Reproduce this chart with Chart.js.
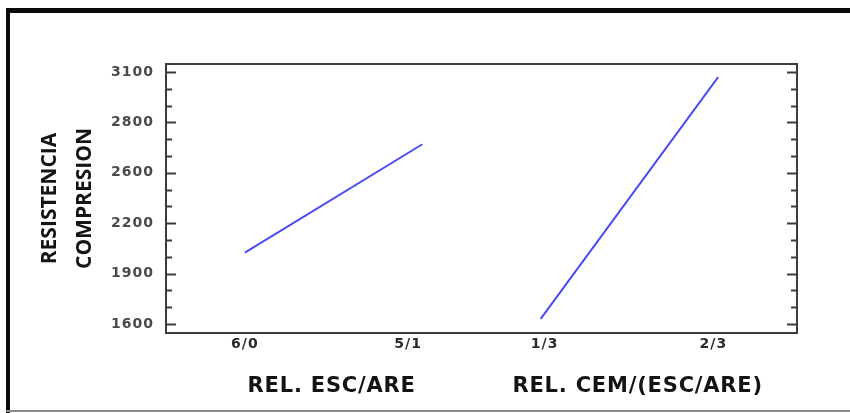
<!DOCTYPE html>
<html>
<head>
<meta charset="utf-8">
<script src="https://cdn.jsdelivr.net/npm/chart.js@4/dist/chart.umd.min.js"></script>
<style>
  html, body { margin: 0; padding: 0; background: #fff; overflow: hidden; }
  canvas { display: block; }
</style>
</head>
<body>
<canvas id="effectsChart" width="850" height="413"></canvas>
<script>
// mean compressive strength per factor level
var escAreLevels = ["6/0", "5/1"];
var escAreMeans = [2025, 2670];
var cemLevels = ["1/3", "2/3"];
var cemMeans = [1630, 3070];

// y axis ticks and the labels printed next to them
var yTickValues = [1600, 1900, 2200, 2500, 2800, 3100];
var yTickLabels = ["1600", "1900", "2200", "2600", "2800", "3100"];

var factorTitles = ["REL. ESC/ARE", "REL. CEM/(ESC/ARE)"];

// where things sit on the shared 0..8 x axis
var escAreX = [1, 3.25];
var cemX = [4.75, 7];
var levelLabelX = [1, 3.07, 4.8, 6.94];
var titleX = [2.1, 5.98];

var levelLabels = escAreLevels.concat(cemLevels);

function points(xs, ys) {
    return xs.map(function (x, i) { return { x: x, y: ys[i] }; });
}

// page frame, plot box with inward ticks, factor titles under the axis
var framePlugin = {
    id: "frame",
    beforeDraw: function (chart) {
        var ctx = chart.ctx;
        ctx.save();
        ctx.fillStyle = "#0a0a0a";
        ctx.fillRect(6, 8, 850, 5);
        ctx.fillRect(6, 8, 4, 420);
        ctx.fillStyle = "#8c8c8c";
        ctx.fillRect(6, 410, 850, 2);
        ctx.restore();
    },
    afterDatasetsDraw: function (chart) {
        var ctx = chart.ctx;
        var a = chart.chartArea;
        var y = chart.scales.y;
        var x = chart.scales.x;
        ctx.save();
        ctx.strokeStyle = "#3c3c3c";
        ctx.lineWidth = 2;
        ctx.strokeRect(a.left, a.top, a.right - a.left, a.bottom - a.top);

        ctx.beginPath();
        for (var v = yTickValues[0]; v <= yTickValues[yTickValues.length - 1]; v += 100) {
            var py = Math.round(y.getPixelForValue(v)) + 0.5;
            var len = (v - yTickValues[0]) % 300 === 0 ? 10 : 6;
            ctx.moveTo(a.left, py);
            ctx.lineTo(a.left + len, py);
            ctx.moveTo(a.right, py);
            ctx.lineTo(a.right - len, py);
        }
        ctx.stroke();

        ctx.fillStyle = "#141414";
        ctx.font = "bold 21px 'DejaVu Sans'";
        ctx.letterSpacing = "0.8px";
        ctx.textAlign = "center";
        ctx.textBaseline = "alphabetic";
        factorTitles.forEach(function (t, i) {
            ctx.fillText(t, x.getPixelForValue(titleX[i]), 392);
        });
        ctx.restore();
        // tick labels are drawn after this on their own layer
        ctx.letterSpacing = "1px";
    },
    afterDraw: function (chart) {
        chart.ctx.letterSpacing = "0px";
    }
};

var lineColor = "#4b4bf5";

new Chart(document.getElementById("effectsChart").getContext("2d"), {
    type: "line",
    data: {
        datasets: [
            {
                label: factorTitles[0],
                data: points(escAreX, escAreMeans),
                borderColor: lineColor,
                borderWidth: 2,
                pointRadius: 0,
                fill: false
            },
            {
                label: factorTitles[1],
                data: points(cemX, cemMeans),
                borderColor: lineColor,
                borderWidth: 2,
                pointRadius: 0,
                fill: false
            }
        ]
    },
    options: {
        responsive: false,
        animation: false,
        layout: { padding: { top: 64, right: 53, left: 0, bottom: 0 } },
        plugins: {
            legend: { display: false },
            tooltip: { enabled: false }
        },
        scales: {
            x: {
                type: "linear",
                min: 0,
                max: 8,
                grid: { display: false, drawTicks: false },
                border: { display: false },
                afterBuildTicks: function (scale) {
                    scale.ticks = levelLabelX.map(function (v) { return { value: v }; });
                },
                afterFit: function (scale) {
                    scale.height = 80;
                },
                ticks: {
                    autoSkip: false,
                    maxRotation: 0,
                    padding: 3,
                    z: 1,
                    color: "#2a2a2a",
                    font: { family: "DejaVu Sans", weight: "bold", size: 14 },
                    callback: function (value, index) {
                        return levelLabels[index];
                    }
                }
            },
            y: {
                type: "linear",
                min: 1546,
                max: 3148,
                grid: { display: false, drawTicks: false },
                border: { display: false },
                afterBuildTicks: function (scale) {
                    scale.ticks = yTickValues.map(function (v) { return { value: v }; });
                },
                afterFit: function (scale) {
                    scale.width = 166;
                },
                ticks: {
                    autoSkip: false,
                    padding: 12,
                    z: 1,
                    color: "#4a4a4a",
                    font: { family: "DejaVu Sans", weight: "bold", size: 14 },
                    callback: function (value, index) {
                        return yTickLabels[index];
                    }
                },
                title: {
                    display: true,
                    text: ["RESISTENCIA", "COMPRESION"],
                    color: "#141414",
                    padding: { top: 32, bottom: 0 },
                    font: { family: "Open Sans", weight: "bold", size: 21, lineHeight: 1.69 }
                }
            }
        }
    },
    plugins: [framePlugin]
});
</script>
</body>
</html>
